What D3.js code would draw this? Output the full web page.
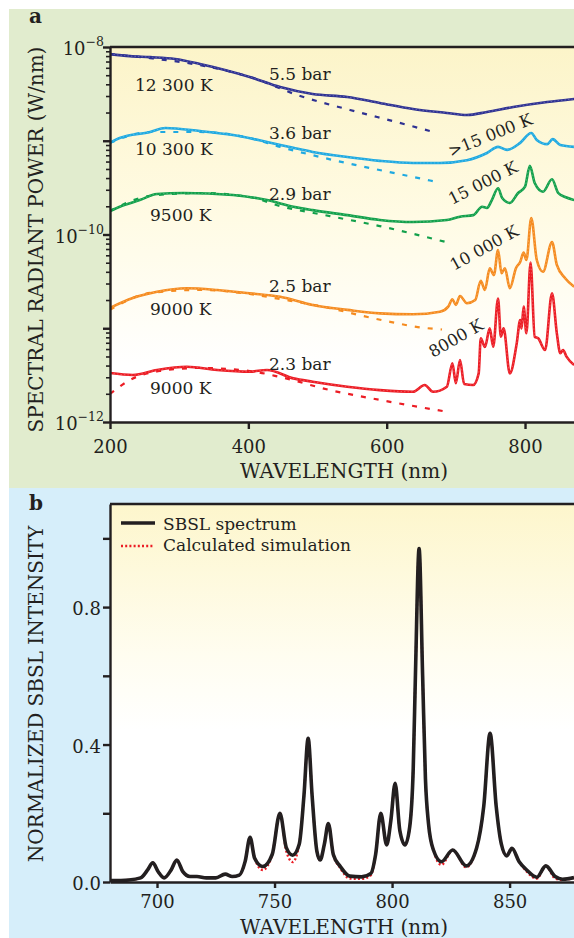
<!DOCTYPE html>
<html>
<head>
<meta charset="utf-8">
<script src="https://cdn.jsdelivr.net/npm/d3@7"></script>
<style>
    body { margin: 0; background: #fff; }
    svg text { font-family: "DejaVu Serif", serif; fill: #231f20; }
</style>
</head>
<body>
<div id="chart"></div>
<script>
// ---- panel a : spectra, [wavelength nm, W/nm] ----
var spec55 = [[200,8.4e-9],[229,8.0e-9],[258,7.8e-9],[294,7.45e-9],[330,6.6e-9],[366,5.7e-9],[402,4.8e-9],[446,3.74e-9],[493,3.15e-9],[543,2.93e-9],[590,2.53e-9],[638,2.18e-9],[687,1.98e-9],[716,1.88e-9],[745,2.03e-9],[783,2.29e-9],[832,2.59e-9],[871,2.79e-9]];
var fit55 = [[200,8.4e-9],[258,7.6e-9],[330,6.4e-9],[402,4.8e-9],[475,3.0e-9],[547,2.13e-9],[619,1.55e-9],[673,1.21e-9]];

var spec36 = [[200,9.5e-10],[214,1.07e-9],[258,1.24e-9],[280,1.37e-9],[330,1.27e-9],[378,1.15e-9],[427,9.7e-10],[465,8.4e-10],[493,7.6e-10],[543,6.7e-10],[590,6.1e-10],[638,5.8e-10],[677,5.8e-10],[716,6.2e-10],[745,7.4e-10],[761,8.6e-10],[774,8.0e-10],[793,9.5e-10],[809,1.21e-9],[817,1.02e-9],[832,9.2e-10],[840,1.04e-9],[851,9.0e-10],[871,8.6e-10]];
var fit36 = [[200,9.5e-10],[258,1.24e-9],[330,1.24e-9],[402,1.07e-9],[446,8.6e-10],[504,6.7e-10],[561,5.4e-10],[619,4.4e-10],[673,3.63e-10]];

var spec29 = [[200,1.78e-10],[214,1.98e-10],[243,2.33e-10],[268,2.70e-10],[306,2.77e-10],[378,2.64e-10],[427,2.33e-10],[465,1.98e-10],[493,1.82e-10],[543,1.61e-10],[590,1.43e-10],[638,1.36e-10],[687,1.43e-10],[706,1.55e-10],[725,1.61e-10],[738,1.98e-10],[745,1.92e-10],[752,2.33e-10],[761,3.11e-10],[767,2.45e-10],[778,2.17e-10],[790,2.77e-10],[800,3.24e-10],[807,5.4e-10],[814,3.54e-10],[826,2.86e-10],[839,3.88e-10],[848,2.77e-10],[858,2.51e-10],[871,2.33e-10]];
var fit29 = [[200,1.78e-10],[258,2.58e-10],[330,2.77e-10],[402,2.51e-10],[446,2.01e-10],[518,1.57e-10],[590,1.23e-10],[686,8.3e-11]];

var spec25 = [[200,1.65e-11],[233,2.10e-11],[268,2.45e-11],[311,2.67e-11],[355,2.56e-11],[402,2.36e-11],[446,2.17e-11],[493,1.77e-11],[543,1.57e-11],[590,1.44e-11],[638,1.41e-11],[677,1.50e-11],[689,1.70e-11],[695,2.04e-11],[700,1.77e-11],[706,2.21e-11],[716,1.85e-11],[728,2.0e-11],[736,3.21e-11],[742,2.56e-11],[749,4.36e-11],[755,3.70e-11],[761,6.84e-11],[766,3.86e-11],[771,4.36e-11],[778,2.67e-11],[787,4.40e-11],[793,5.09e-11],[798,6.40e-11],[802,5.35e-11],[809,1.50e-10],[817,5.35e-11],[826,4.01e-11],[839,8.3e-11],[846,4.73e-11],[858,3.41e-11],[871,2.77e-11]];
var fit25 = [[200,1.57e-11],[258,2.38e-11],[330,2.56e-11],[402,2.32e-11],[446,2.05e-11],[518,1.64e-11],[566,1.35e-11],[605,1.17e-11],[645,1.03e-11],[680,9.7e-12]];

var spec23 = [[200,3.33e-12],[233,3.17e-12],[268,3.59e-12],[311,3.89e-12],[355,3.59e-12],[402,3.44e-12],[427,3.59e-12],[465,2.92e-12],[493,2.69e-12],[543,2.38e-12],[590,2.19e-12],[638,2.10e-12],[655,2.48e-12],[667,2.10e-12],[687,2.38e-12],[695,4.23e-12],[700,2.59e-12],[706,4.58e-12],[712,2.54e-12],[725,2.48e-12],[733,3.30e-12],[736,7.82e-12],[742,6.31e-12],[749,9.98e-12],[754,6.36e-12],[761,2.08e-11],[765,8.13e-12],[769,9.98e-12],[778,3.30e-12],[788,6.90e-12],[793,1.22e-11],[795,9.98e-12],[798,1.70e-11],[802,8.83e-12],[808,5.03e-11],[814,8.13e-12],[819,7.82e-12],[829,5.86e-12],[839,2.36e-11],[846,8.83e-12],[851,5.41e-12],[855,5.86e-12],[860,4.98e-12],[871,4.06e-12]];
var fit23 = [[200,1.99e-12],[229,2.81e-12],[272,3.50e-12],[330,3.77e-12],[402,3.50e-12],[446,3.02e-12],[518,2.19e-12],[590,1.72e-12],[681,1.31e-12]];

var tempLabels = ["12 300 K", "10 300 K", "9500 K", "9000 K", "9000 K"];
var pressureLabels = ["5.5 bar", "3.6 bar", "2.9 bar", "2.5 bar", "2.3 bar"];
var lineTempLabels = [">15 000 K", "15 000 K", "10 000 K", "8000 K"];

var ticksXA = [200, 400, 600, 800];
var decadesA = [-12, -11, -10, -9, -8];
var labelledDecades = [-12, -10, -8];

// ---- panel b : normalized SBSL ----
var waveB = [680,688,693,696,698.2,700.5,703,706,708.4,711,714,717,721,725,729,732,735,737.5,739.6,741.5,745,749,752.3,755,757.7,760.5,762.5,764.3,766,768,769.4,771.2,772.9,775,778,782,787,791,793,795.2,797.7,799.5,801.3,803.3,805.5,807.5,809,810,811.5,813,814.2,815.5,817.6,821,825.8,831.5,836,839,841.7,844.3,846.5,848.8,851,854,857.3,861.6,865.4,869.4,872.5,877.4];
var sbslIntensity = [0.004,0.006,0.012,0.035,0.056,0.03,0.012,0.035,0.064,0.03,0.016,0.016,0.012,0.012,0.023,0.016,0.02,0.06,0.13,0.07,0.045,0.08,0.2,0.1,0.078,0.11,0.25,0.418,0.25,0.09,0.064,0.11,0.17,0.08,0.045,0.017,0.015,0.025,0.08,0.2,0.108,0.18,0.287,0.15,0.108,0.16,0.33,0.62,0.97,0.6,0.3,0.17,0.093,0.059,0.093,0.047,0.1,0.22,0.433,0.22,0.11,0.076,0.098,0.06,0.035,0.014,0.047,0.016,0.008,0.013];
var simIntensity = [0.004,0.006,0.012,0.035,0.056,0.03,0.012,0.035,0.064,0.03,0.016,0.016,0.012,0.012,0.023,0.016,0.02,0.06,0.13,0.07,0.035,0.08,0.2,0.09,0.058,0.11,0.25,0.418,0.25,0.09,0.064,0.11,0.17,0.08,0.04,0.01,0.009,0.02,0.08,0.2,0.108,0.18,0.287,0.15,0.108,0.16,0.33,0.62,0.97,0.6,0.3,0.17,0.093,0.05,0.093,0.043,0.1,0.22,0.433,0.22,0.11,0.076,0.098,0.06,0.03,0.01,0.047,0.01,0.006,0.012];

var ticksXB = [700, 750, 800, 850];
var ticksYB = [0, 0.2, 0.4, 0.6, 0.8, 1.0];
var labelledYB = [0, 0.4, 0.8];
var legendLabels = ["SBSL spectrum", "Calculated simulation"];

var ink = "#231f20";
var W = 574, H = 938;

var svg = d3.select("#chart").append("svg")
    .attr("width", W)
    .attr("height", H);

// panel backgrounds
svg.append("rect").attr("x", 9).attr("y", 9).attr("width", W - 9).attr("height", 479).attr("fill", "#e1ecce");
svg.append("rect").attr("x", 9).attr("y", 488).attr("width", W - 9).attr("height", H - 488).attr("fill", "#d6eefa");

var defs = svg.append("defs");
function grad(id, stops) {
    var g = defs.append("linearGradient").attr("id", id)
        .attr("x1", 0).attr("y1", 0).attr("x2", 0).attr("y2", 1);
    stops.forEach(function(s) {
        g.append("stop").attr("offset", s[0]).attr("stop-color", s[1]);
    });
}
grad("bgA", [["0%", "#fcf4c9"], ["45%", "#fffbe4"], ["85%", "#ffffff"]]);
grad("bgB", [["0%", "#fdf6cc"], ["40%", "#fffdf0"], ["60%", "#ffffff"]]);

// =========== panel a ===========
var a = {left: 110, top: 47, right: W, bottom: 422};
var xA = d3.scaleLinear().domain([200, 870.8]).range([a.left, a.right]);
var yA = d3.scaleLog().domain([1e-12, 1e-8]).range([a.bottom, a.top]);

svg.append("rect").attr("x", a.left).attr("y", a.top)
    .attr("width", a.right - a.left).attr("height", a.bottom - a.top)
    .attr("fill", "url(#bgA)");

defs.append("clipPath").attr("id", "clipA").append("rect")
    .attr("x", a.left).attr("y", a.top).attr("width", a.right - a.left).attr("height", a.bottom - a.top);

var lineA = d3.line()
    .x(function(d) { return xA(d[0]); })
    .y(function(d) { return yA(d[1]); })
    .curve(d3.curveMonotoneX);

var seriesA = [
    {spec: spec55, fit: fit55, color: "#2e3192"},
    {spec: spec36, fit: fit36, color: "#1fa9e1"},
    {spec: spec29, fit: fit29, color: "#12a04b"},
    {spec: spec25, fit: fit25, color: "#f58b1f"},
    {spec: spec23, fit: fit23, color: "#ec1c24"}
];

var gA = svg.append("g").attr("clip-path", "url(#clipA)");

gA.selectAll(".fit")
    .data(seriesA)
    .enter().append("path")
    .attr("class", "fit")
    .attr("d", function(d) { return lineA(d.fit); })
    .attr("fill", "none")
    .attr("stroke", function(d) { return d.color; })
    .attr("stroke-width", 2.2)
    .attr("stroke-dasharray", "5,8");

gA.selectAll(".spec")
    .data(seriesA)
    .enter().append("path")
    .attr("class", "spec")
    .attr("d", function(d) { return lineA(d.spec); })
    .attr("fill", "none")
    .attr("stroke", function(d) { return d.color; })
    .attr("stroke-width", 2.6)
    .attr("stroke-linejoin", "round");

// thin light core to mimic the doubled trace
gA.selectAll(".core")
    .data(seriesA)
    .enter().append("path")
    .attr("class", "core")
    .attr("d", function(d) { return lineA(d.spec); })
    .attr("fill", "none")
    .attr("stroke", "#fff")
    .attr("stroke-opacity", 0.35)
    .attr("stroke-width", 0.7)
    .attr("stroke-dasharray", "1.5,2");

// annotations
var tempPos = [[135, 91], [135, 155], [150, 221], [150, 315], [150, 394]];
var pressPos = [[269, 80], [269, 139], [269, 200], [269, 292], [269, 370]];
svg.selectAll(".tlab")
    .data(tempLabels)
    .enter().append("text")
    .attr("x", function(d, i) { return tempPos[i][0]; })
    .attr("y", function(d, i) { return tempPos[i][1]; })
    .attr("font-size", 17)
    .text(function(d) { return d; });
svg.selectAll(".plab")
    .data(pressureLabels)
    .enter().append("text")
    .attr("x", function(d, i) { return pressPos[i][0]; })
    .attr("y", function(d, i) { return pressPos[i][1]; })
    .attr("font-size", 17)
    .text(function(d) { return d; });

var rotPos = [[451, 157, -22], [452, 205, -27], [454, 271, -29], [433, 358, -30]];
svg.selectAll(".rlab")
    .data(lineTempLabels)
    .enter().append("text")
    .attr("transform", function(d, i) {
        return "translate(" + rotPos[i][0] + "," + rotPos[i][1] + ") rotate(" + rotPos[i][2] + ")";
    })
    .attr("font-size", 16.5)
    .text(function(d) { return d; });

// axes
var axisXA = svg.append("g")
    .attr("transform", "translate(0," + a.bottom + ")")
    .call(d3.axisBottom(xA).tickValues(ticksXA).tickSize(7).tickSizeOuter(0).tickPadding(11).tickFormat(d3.format("d")));

var minorA = [];
decadesA.slice(0, 4).forEach(function(e) {
    for (var m = 2; m <= 9; m++) minorA.push(m * Math.pow(10, e));
});
svg.append("g")
    .attr("transform", "translate(" + a.left + ",0)")
    .attr("class", "minor")
    .call(d3.axisLeft(yA).tickValues(minorA).tickSize(4).tickFormat(""));
var axisYA = svg.append("g")
    .attr("transform", "translate(" + a.left + ",0)")
    .call(d3.axisLeft(yA).tickValues(decadesA.map(function(e) { return Math.pow(10, e); })).tickSize(7).tickSizeOuter(0).tickFormat(""));

svg.append("line")
    .attr("x1", a.left).attr("x2", a.right)
    .attr("y1", a.top).attr("y2", a.top)
    .attr("stroke", ink).attr("stroke-width", 2.6);

var yTickLab = svg.selectAll(".ylabA")
    .data(labelledDecades)
    .enter().append("text")
    .attr("x", 104)
    .attr("y", function(e) { return yA(Math.pow(10, e)) + 8; })
    .attr("text-anchor", "end")
    .attr("font-size", 18);
yTickLab.append("tspan").text("10");
yTickLab.append("tspan")
    .attr("dy", -9)
    .attr("font-size", 12.5)
    .text(function(e) { return "\u2212" + Math.abs(e); });

svg.append("text")
    .attr("transform", "translate(43," + ((a.top + a.bottom) / 2 + 5) + ") rotate(-90)")
    .attr("text-anchor", "middle")
    .attr("font-size", 20)
    .text("SPECTRAL RADIANT POWER (W/nm)");

svg.append("text")
    .attr("x", 344).attr("y", 478)
    .attr("text-anchor", "middle")
    .attr("font-size", 20)
    .text("WAVELENGTH (nm)");

svg.append("text")
    .attr("x", 29).attr("y", 23)
    .attr("font-size", 20).attr("font-weight", "bold")
    .text("a");

// =========== panel b ===========
var b = {left: 110, top: 504, right: W, bottom: 882};
var xB = d3.scaleLinear().domain([680, 877.4]).range([b.left, b.right]);
var yB = d3.scaleLinear().domain([0, 1.1]).range([b.bottom, b.top]);

svg.append("rect").attr("x", b.left).attr("y", b.top)
    .attr("width", b.right - b.left).attr("height", b.bottom - b.top)
    .attr("fill", "url(#bgB)");

defs.append("clipPath").attr("id", "clipB").append("rect")
    .attr("x", b.left).attr("y", b.top - 2).attr("width", b.right - b.left).attr("height", b.bottom - b.top + 2);

var lineB = d3.line()
    .x(function(d, i) { return xB(waveB[i]); })
    .y(function(d) { return yB(d); })
    .curve(d3.curveMonotoneX);

var gB = svg.append("g").attr("clip-path", "url(#clipB)");
gB.append("path")
    .attr("d", lineB(simIntensity))
    .attr("fill", "none")
    .attr("stroke", "#ec1c24")
    .attr("stroke-width", 2.4)
    .attr("stroke-dasharray", "2,2.2");
gB.append("path")
    .attr("d", lineB(sbslIntensity))
    .attr("fill", "none")
    .attr("stroke", ink)
    .attr("stroke-width", 3.6)
    .attr("stroke-linejoin", "round");

var axisXB = svg.append("g")
    .attr("transform", "translate(0," + b.bottom + ")")
    .call(d3.axisBottom(xB).tickValues(ticksXB).tickSize(6).tickSizeOuter(0).tickPadding(7).tickFormat(d3.format("d")));

var axisYB = svg.append("g")
    .attr("transform", "translate(" + b.left + ",0)")
    .call(d3.axisLeft(yB).tickValues(ticksYB).tickSize(7).tickSizeOuter(0).tickPadding(2)
        .tickFormat(function(d) { return labelledYB.indexOf(d) >= 0 ? d3.format(".1f")(d) : ""; }));

svg.append("line")
    .attr("x1", b.left).attr("x2", b.right)
    .attr("y1", b.top).attr("y2", b.top)
    .attr("stroke", ink).attr("stroke-width", 2.6);

// legend
var legend = svg.append("g");
legend.append("line").attr("x1", 121).attr("x2", 155).attr("y1", 523).attr("y2", 523)
    .attr("stroke", ink).attr("stroke-width", 3.6);
legend.append("line").attr("x1", 121).attr("x2", 153).attr("y1", 546).attr("y2", 546)
    .attr("stroke", "#ec1c24").attr("stroke-width", 2.6).attr("stroke-dasharray", "2,2.2");
legend.selectAll("text")
    .data(legendLabels)
    .enter().append("text")
    .attr("x", 163)
    .attr("y", function(d, i) { return 530 + i * 21; })
    .attr("font-size", 17)
    .text(function(d) { return d; });

svg.append("text")
    .attr("transform", "translate(43,694) rotate(-90)")
    .attr("text-anchor", "middle")
    .attr("font-size", 20)
    .text("NORMALIZED SBSL INTENSITY");

svg.append("text")
    .attr("x", 344).attr("y", 934)
    .attr("text-anchor", "middle")
    .attr("font-size", 20)
    .text("WAVELENGTH (nm)");

svg.append("text")
    .attr("x", 29).attr("y", 510)
    .attr("font-size", 20).attr("font-weight", "bold")
    .text("b");

// common axis styling
svg.selectAll(".domain, .tick line")
    .attr("stroke", ink)
    .attr("stroke-width", 2.4);
svg.selectAll(".minor .domain").remove();
svg.selectAll(".minor .tick line").attr("stroke-width", 1.6);
svg.selectAll(".tick text")
    .attr("font-size", 18)
    .attr("font-family", "DejaVu Serif, serif")
    .attr("fill", ink);
axisYB.selectAll(".tick text").attr("dy", "0.42em");
</script>
</body>
</html>
